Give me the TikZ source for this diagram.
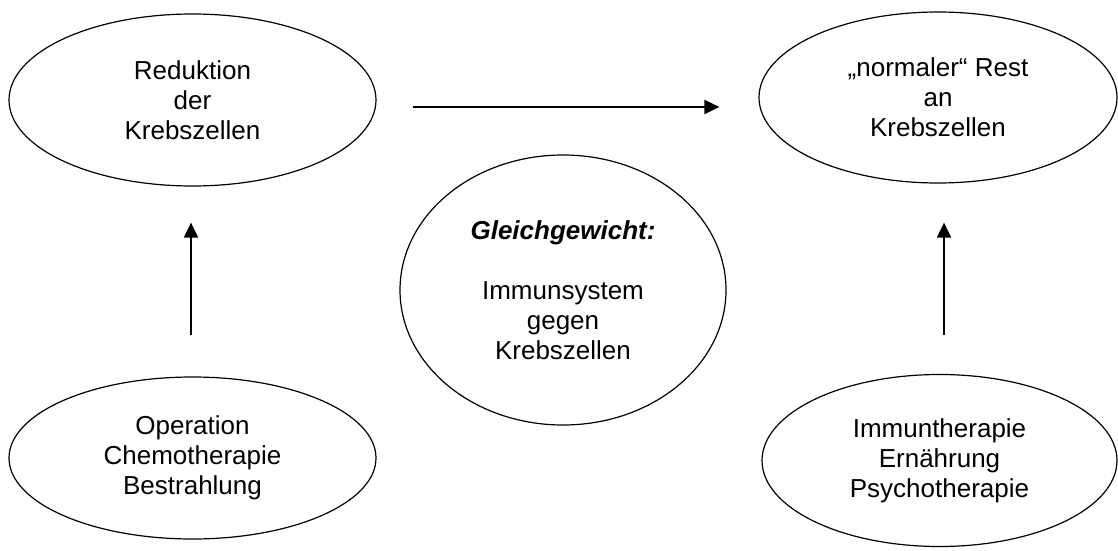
\documentclass[tikz,border=0pt]{standalone}
\usepackage{fontspec}
\setmainfont{Liberation Sans}
\usetikzlibrary{arrows.meta, shapes.geometric}
\tikzset{
  oval/.style={draw, ellipse, line width=1.2pt, inner sep=0pt, align=center,
               font=\fontsize{26}{30}\selectfont},
  pfeil/.style={-{Triangle[length=15pt, width=14pt]}, line width=2pt},
}

\begin{document}
\begin{tikzpicture}[x=1pt, y=1pt]
    \useasboundingbox (0,0) rectangle (1118,550);
    \node[oval, minimum width=367pt, minimum height=172pt] (reduktion) at (192.5, 450) {Reduktion\\der\\Krebszellen};
    \node[oval, minimum width=358pt, minimum height=171pt] (rest) at (938, 452.5) {„normaler“ Rest\\an\\Krebszellen};
    \node[oval, minimum width=326pt, minimum height=270pt] (gleich) at (563, 260) {\textbf{\textit{Gleichgewicht:}}\\[30pt]Immunsystem\\gegen\\Krebszellen};
    \node[oval, minimum width=367pt, minimum height=162pt] (schul) at (192.5, 92) {Operation\\Chemotherapie\\Bestrahlung};
    \node[oval, minimum width=355pt, minimum height=172pt] (komplement) at (939.5, 89.5) {Immuntherapie\\Ernährung\\Psychotherapie};
    \draw[pfeil] ([shift={(36pt,-7pt)}]reduktion.east) -- ([shift={(-39pt,-7pt)}]reduktion.east -| rest.west);
    \draw[pfeil, shorten <=41pt, shorten >=36pt] ([xshift=-1.5pt]schul.north) -- ([xshift=-1.5pt]reduktion.south);
    \draw[pfeil, shorten <=39pt, shorten >=39pt] ([xshift=4.5pt]komplement.north) -- ([xshift=4.5pt]komplement.north |- rest.south);
  \end{tikzpicture}
\end{document}
